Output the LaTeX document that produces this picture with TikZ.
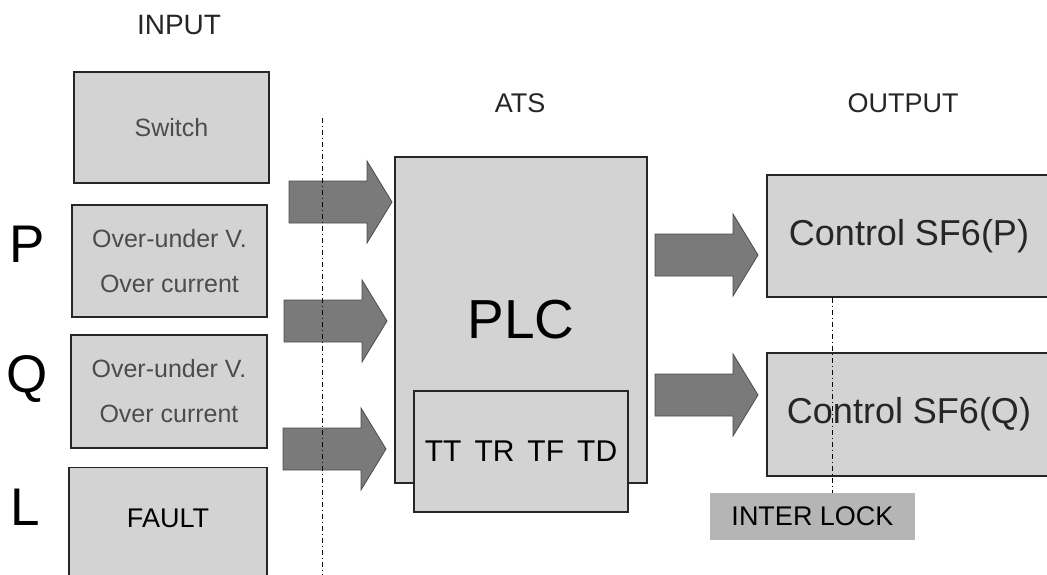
\documentclass[tikz,border=0pt]{standalone}
\usepackage{fontspec}
\setmainfont{Liberation Sans}
\usetikzlibrary{positioning}

\definecolor{boxgray}{HTML}{D3D3D3}
\definecolor{arrowgray}{HTML}{7A7A7A}
\definecolor{lockgray}{HTML}{B5B5B5}
\newcommand{\fsz}[1]{\fontsize{#1}{#1}\selectfont}
\newcommand{\blockarrow}[2]{%
  \filldraw[fatarrow] (#1,#2-21) -- ++(78,0) -- ++(0,-20) -- ++(25,41)
    -- ++(-25,41) -- ++(0,-20) -- ++(-78,0) -- cycle;}

\tikzset{
  box/.style={draw=black!85, line width=1.2pt, fill=boxgray, rectangle, inner sep=0pt},
  fatarrow/.style={fill=arrowgray, draw=black!70, line width=0.8pt},
  sep/.style={line width=0.9pt, dash pattern=on 5pt off 3pt on 1pt off 3pt},
  head/.style={anchor=base, font=\fsz{27}, text=black!85},
  side/.style={anchor=base, font=\fsz{53}},
}

\begin{document}
\begin{tikzpicture}[x=1pt,y=-1pt]
\useasboundingbox (0,0) rectangle (1047,575);
\clip (0,0) rectangle (1047,575);

% column titles
\node[head, font=\fsz{28}] (tin) at (179,35) {INPUT};
\node[head] (tats) at (520,113) {ATS};
\node[head] (tout) at (903,113) {OUTPUT};

% line names
\node[side] (lp) at (27,262) {P};
\node[side] (lq) at (27,392) {Q};
\node[side] (ll) at (25,525) {L};

% input boxes
\node[box, minimum width=195pt, minimum height=111pt, text=black!70, font=\fsz{25}] (switch) at (171.5,127.5) {Switch};
\node[box, minimum width=195pt, minimum height=112pt, text=black!70, align=center,
  font=\fontsize{25}{45}\selectfont] (inP) at (169.5,261) {Over-under V.\\Over current};
\node[box, minimum width=196pt, minimum height=113pt, text=black!70, align=center,
  font=\fontsize{25}{45}\selectfont] (inQ) at (169,391.5) {Over-under V.\\Over current};
\node[box, minimum width=198pt, minimum height=130pt, anchor=north] (fault) at (168,467) {};
\node[font=\fsz{27}] (faulttxt) at (168,518) {FAULT};

% ATS
\node[box, minimum width=252pt, minimum height=326pt, font=\fsz{55}] (plc) at (521,320) {PLC};
\node[box, minimum width=214pt, minimum height=121pt, font=\fsz{30}] (timers) at (521,451.5)
  {TT\hspace{13pt}TR\hspace{13pt}TF\hspace{13pt}TD};

% outputs
\node[box, minimum width=284pt, minimum height=122pt, font=\fsz{36}, text=black!85] (ctrlP) at (909,236) {Control SF6(P)};
\node[box, minimum width=284pt, minimum height=123pt, font=\fsz{36}, text=black!85] (ctrlQ) at (909,414.5) {Control SF6(Q)};
\node[fill=lockgray, minimum width=205pt, minimum height=47pt, inner sep=0pt, font=\fsz{27}] (lock) at (812.5,516.5) {INTER LOCK};

% block arrows
\blockarrow{289}{202}
\blockarrow{284}{321}
\blockarrow{283}{449}
\blockarrow{655}{255}
\blockarrow{655}{395}

% separators
\draw[sep] (322,118) -- (322,580);
\coordinate (lockx) at (832,0);
\draw[sep] (ctrlP.south -| lockx) -- (lock.north -| lockx);
\end{tikzpicture}
\end{document}
